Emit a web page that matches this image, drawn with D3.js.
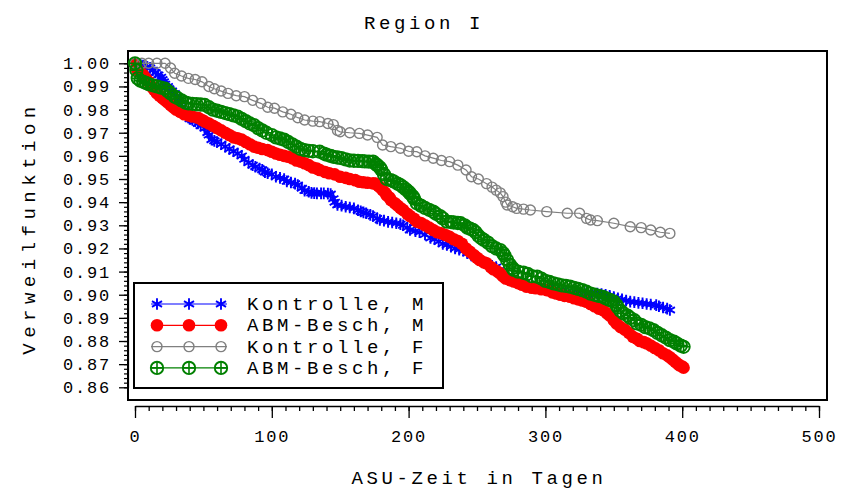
<!DOCTYPE html>
<html>
<head>
<meta charset="utf-8">
<script src="https://cdn.jsdelivr.net/npm/d3@7"></script>
<style>
  body { margin: 0; background: #fff; }
  text { font-family: "Liberation Mono", "DejaVu Sans Mono", monospace; fill: #000; }
</style>
</head>
<body>
<div id="chart"></div>
<script>
// Verweilfunktion (Kaplan-Meier) per Gruppe, [Tage, Anteil]
const kontrolleM = [[0,1.000],[2,0.9998],[4,0.9995],[6,0.999],[9,0.9985],[11,0.998],[13,0.997],[15,0.996],[17,0.995],[19,0.994],[20,0.993],[21,0.992],[22,0.991],[24,0.990],[25,0.989],[27,0.988],[29,0.987],[31,0.9855],[32,0.984],[33,0.9825],[34,0.981],[35,0.9795],[36,0.978],[38,0.977],[40,0.976],[42,0.9755],[44,0.975],[46,0.974],[48,0.973],[51,0.972],[53,0.970],[54,0.969],[56,0.967],[58,0.9665],[60,0.966],[63,0.965],[66,0.964],[69,0.963],[72,0.962],[75,0.961],[78,0.960],[80,0.9585],[83,0.957],[86,0.956],[88,0.9553],[91,0.9545],[93,0.954],[95,0.953],[97,0.9525],[100,0.952],[103,0.951],[106,0.9505],[109,0.950],[111,0.949],[114,0.9485],[117,0.948],[119,0.9474],[122,0.946],[124,0.945],[127,0.9445],[129,0.944],[131,0.9439],[133,0.9438],[136,0.9438],[138,0.9438],[141,0.9437],[143,0.9435],[145,0.9415],[146,0.940],[148,0.9388],[151,0.9385],[154,0.938],[157,0.9377],[160,0.9373],[163,0.9365],[165,0.936],[167,0.9356],[169,0.9352],[172,0.9345],[174,0.934],[177,0.933],[179,0.9323],[182,0.932],[185,0.9315],[188,0.9312],[191,0.9309],[194,0.9305],[196,0.930],[199,0.929],[201,0.928],[205,0.9275],[208,0.927],[212,0.926],[216,0.9245],[219,0.924],[222,0.923],[225,0.922],[228,0.9215],[231,0.9208],[234,0.920],[237,0.9195],[240,0.919],[243,0.918],[246,0.917],[249,0.916],[252,0.915],[255,0.914],[258,0.913],[261,0.9125],[264,0.912],[266,0.9105],[268,0.909],[271,0.907],[274,0.9065],[276,0.906],[279,0.9055],[282,0.905],[285,0.9045],[288,0.904],[291,0.9035],[295,0.903],[298,0.9025],[301,0.902],[305,0.9018],[310,0.9015],[315,0.9012],[320,0.901],[325,0.9008],[330,0.9007],[334,0.9006],[338,0.9005],[341,0.9003],[344,0.900],[347,0.8995],[350,0.899],[353,0.8985],[356,0.898],[359,0.8975],[362,0.897],[365,0.8968],[368,0.8965],[371,0.8963],[374,0.896],[377,0.8958],[381,0.8955],[383,0.895],[386,0.8945],[389,0.894],[391,0.8934]];
const abmM = [[0,1.000],[1,0.998],[2,0.997],[4,0.996],[6,0.995],[8,0.9935],[10,0.992],[12,0.990],[14,0.9885],[16,0.987],[18,0.986],[20,0.985],[22,0.984],[24,0.983],[26,0.982],[28,0.981],[30,0.980],[33,0.979],[36,0.978],[39,0.9775],[42,0.977],[46,0.9765],[49,0.9755],[51,0.9748],[54,0.974],[57,0.973],[60,0.972],[63,0.971],[66,0.970],[69,0.969],[72,0.968],[75,0.9676],[78,0.967],[81,0.966],[84,0.965],[87,0.964],[90,0.9635],[93,0.963],[97,0.9625],[100,0.9618],[103,0.961],[106,0.9605],[109,0.960],[112,0.9596],[115,0.959],[118,0.958],[121,0.9575],[124,0.9568],[127,0.956],[130,0.955],[133,0.9545],[135,0.9539],[139,0.953],[142,0.9525],[146,0.952],[150,0.951],[154,0.9505],[157,0.950],[161,0.9495],[164,0.9488],[167,0.9486],[170,0.9484],[174,0.9481],[176,0.948],[178,0.947],[180,0.946],[181,0.9452],[183,0.944],[184,0.943],[186,0.942],[187,0.9409],[190,0.9395],[192,0.9385],[194,0.9375],[196,0.9366],[199,0.935],[201,0.934],[204,0.9328],[206,0.9316],[209,0.931],[212,0.930],[215,0.929],[218,0.928],[221,0.927],[224,0.9265],[227,0.9258],[230,0.925],[233,0.924],[236,0.9232],[239,0.922],[242,0.920],[245,0.9185],[248,0.917],[250,0.916],[252,0.915],[255,0.914],[257,0.9136],[260,0.912],[262,0.911],[265,0.910],[267,0.9092],[269,0.908],[271,0.907],[274,0.9063],[277,0.9057],[280,0.905],[283,0.9043],[286,0.9035],[290,0.903],[293,0.9028],[297,0.9024],[301,0.902],[305,0.901],[308,0.9005],[311,0.900],[314,0.8995],[318,0.8991],[321,0.8985],[324,0.898],[327,0.8975],[330,0.897],[333,0.896],[336,0.895],[339,0.894],[342,0.8934],[345,0.892],[347,0.891],[350,0.889],[352,0.8876],[355,0.886],[358,0.885],[361,0.8835],[364,0.8818],[367,0.881],[369,0.880],[372,0.8795],[374,0.879],[377,0.878],[380,0.877],[383,0.876],[386,0.8747],[389,0.8738],[391,0.873],[393,0.872],[395,0.871],[397,0.870],[398,0.8695],[400,0.869],[401,0.8685]];
const kontrolleF = [[0,1.000],[5,1.000],[10,1.000],[16,1.000],[22,1.000],[26,0.998],[29,0.9957],[34,0.9945],[39,0.9935],[44,0.993],[49,0.992],[54,0.990],[58,0.989],[63,0.988],[68,0.987],[74,0.986],[80,0.9856],[86,0.984],[92,0.9827],[97,0.981],[102,0.9806],[108,0.979],[114,0.978],[119,0.9765],[124,0.9755],[130,0.975],[135,0.9748],[141,0.974],[145,0.9735],[148,0.971],[150,0.9704],[157,0.970],[164,0.9697],[170,0.969],[177,0.968],[181,0.9647],[187,0.964],[194,0.9633],[200,0.962],[206,0.9618],[212,0.960],[218,0.959],[224,0.958],[230,0.9575],[236,0.956],[242,0.9539],[246,0.951],[251,0.950],[257,0.948],[261,0.9465],[264,0.9452],[267,0.944],[269,0.9424],[271,0.940],[272,0.9388],[276,0.938],[279,0.9373],[284,0.937],[289,0.9366],[301,0.9359],[316,0.9352],[325,0.9352],[330,0.933],[333,0.9323],[338,0.932],[350,0.9309],[362,0.9294],[370,0.929],[377,0.928],[384,0.927],[391,0.9265]];
const abmF = [[0,1.000],[1,0.997],[2,0.9935],[4,0.9925],[6,0.992],[8,0.9915],[10,0.991],[13,0.9905],[16,0.990],[19,0.9895],[22,0.989],[24,0.988],[26,0.987],[29,0.9856],[31,0.985],[34,0.984],[37,0.983],[39,0.9827],[42,0.9825],[45,0.9823],[48,0.9822],[51,0.982],[54,0.981],[57,0.980],[60,0.9795],[63,0.979],[66,0.9785],[69,0.978],[72,0.9775],[75,0.977],[78,0.976],[81,0.975],[84,0.974],[87,0.9733],[90,0.972],[93,0.971],[96,0.970],[100,0.969],[103,0.968],[106,0.9675],[109,0.967],[112,0.966],[115,0.965],[118,0.964],[121,0.963],[124,0.9625],[127,0.9622],[130,0.962],[135,0.9618],[138,0.961],[140,0.9605],[143,0.960],[145,0.9596],[148,0.9593],[151,0.959],[154,0.9585],[157,0.958],[160,0.9579],[163,0.9578],[166,0.9577],[168,0.9576],[171,0.9575],[174,0.9575],[176,0.9565],[177,0.956],[179,0.955],[180,0.954],[182,0.952],[184,0.950],[187,0.9495],[189,0.949],[192,0.948],[194,0.9474],[196,0.9465],[198,0.9455],[200,0.9445],[201,0.9438],[203,0.9425],[204,0.9415],[206,0.9395],[209,0.9385],[212,0.9375],[215,0.9367],[218,0.9359],[220,0.935],[223,0.934],[225,0.933],[228,0.9316],[231,0.9314],[233,0.9312],[236,0.931],[238,0.9309],[241,0.930],[243,0.929],[245,0.9285],[247,0.928],[249,0.927],[251,0.9255],[253,0.9245],[255,0.9237],[258,0.9225],[261,0.921],[264,0.920],[267,0.9193],[269,0.918],[270,0.917],[272,0.915],[274,0.913],[276,0.9115],[277,0.9107],[280,0.910],[284,0.9095],[287,0.909],[290,0.908],[294,0.9078],[297,0.907],[300,0.906],[303,0.9055],[306,0.9049],[309,0.9045],[312,0.904],[315,0.9038],[318,0.9035],[321,0.903],[324,0.9025],[327,0.902],[330,0.9013],[333,0.9005],[336,0.900],[339,0.8995],[342,0.8991],[344,0.8985],[346,0.898],[348,0.8975],[350,0.897],[352,0.8955],[353,0.8945],[355,0.893],[357,0.892],[360,0.891],[362,0.890],[365,0.889],[367,0.8876],[370,0.887],[373,0.886],[376,0.8855],[379,0.8847],[382,0.8835],[385,0.8825],[388,0.8815],[391,0.8804],[394,0.8797],[396,0.879],[399,0.878],[401,0.8775]];

const seriesNames = ["Kontrolle, M", "ABM-Besch, M", "Kontrolle, F", "ABM-Besch, F"];
const seriesData = [kontrolleM, abmM, kontrolleF, abmF];
const seriesColors = ["#0000ff", "#ff0000", "#808080", "#008000"];
const seriesSymbols = ["star", "dot", "circle", "circleplus"];

const xTicks = [0, 100, 200, 300, 400, 500];
const yTicks = [0.86, 0.87, 0.88, 0.89, 0.90, 0.91, 0.92, 0.93, 0.94, 0.95, 0.96, 0.97, 0.98, 0.99, 1.00];

const width = 842, height = 492;
const frame = {left: 128, top: 51, right: 827, bottom: 400};

const svg = d3.select("#chart").append("svg")
    .attr("width", width)
    .attr("height", height);

const x = d3.scaleLinear().domain([0, 500]).range([135, 819]);
const y = d3.scaleLinear().domain([0.86, 1.00]).range([387.3, 63.3]);

// rahmen
svg.append("rect")
    .attr("x", frame.left).attr("y", frame.top)
    .attr("width", frame.right - frame.left)
    .attr("height", frame.bottom - frame.top)
    .attr("fill", "none").attr("stroke", "#000").attr("stroke-width", 2);

// x achse
const xMinor = d3.range(0, 501, 10);
svg.append("g")
    .attr("transform", "translate(0,406)")
    .call(d3.axisBottom(x).tickValues(xMinor).tickSize(5).tickSizeOuter(0).tickFormat(""))
    .call(g => g.selectAll("path,line").attr("stroke", "#000").attr("stroke-width", 1.3));
const gx = svg.append("g")
    .attr("transform", "translate(0,406)")
    .call(d3.axisBottom(x).tickValues(xTicks).tickSize(12).tickSizeOuter(0).tickPadding(12).tickFormat(d3.format("d")));
gx.select(".domain").remove();
gx.selectAll("line").attr("stroke", "#000").attr("stroke-width", 1.3);
gx.selectAll("text")
    .style("font-size", "17px").style("letter-spacing", "1.8px")
    .attr("fill", "#000");

// y achse
const yMinor = d3.range(0, 71).map(i => 0.86 + i * 0.002);
svg.append("g")
    .attr("transform", "translate(" + frame.left + ",0)")
    .call(d3.axisLeft(y).tickValues(yMinor).tickSize(4).tickSizeOuter(0).tickFormat(""))
    .call(g => g.selectAll("path,line").attr("stroke", "#000").attr("stroke-width", 1.2));
const gy = svg.append("g")
    .attr("transform", "translate(" + frame.left + ",0)")
    .call(d3.axisLeft(y).tickValues(yTicks).tickSize(9).tickSizeOuter(0).tickPadding(8).tickFormat(d3.format(".2f")));
gy.select(".domain").remove();
gy.selectAll("line").attr("stroke", "#000").attr("stroke-width", 1.3);
gy.selectAll("text")
    .style("font-size", "17px").style("letter-spacing", "1.8px")
    .attr("fill", "#000");

// titel
svg.append("text")
    .attr("x", 424).attr("y", 29)
    .attr("text-anchor", "middle")
    .style("font-size", "19px").style("letter-spacing", "3.6px")
    .text("Region I");
svg.append("text")
    .attr("x", 479).attr("y", 484)
    .attr("text-anchor", "middle")
    .style("font-size", "19px").style("letter-spacing", "3.6px")
    .text("ASU-Zeit in Tagen");
svg.append("text")
    .attr("transform", "translate(35,228) rotate(-90)")
    .attr("text-anchor", "middle")
    .style("font-size", "19px").style("letter-spacing", "5.5px")
    .text("Verweilfunktion");

function drawSymbol(g, kind, color) {
    if (kind === "dot") {
        g.append("circle").attr("r", 6.3).attr("fill", color);
    } else if (kind === "circle") {
        g.append("circle").attr("r", 5).attr("fill", "none")
            .attr("stroke", color).attr("stroke-width", 1.4);
    } else if (kind === "circleplus") {
        g.append("circle").attr("r", 6.2).attr("fill", "none")
            .attr("stroke", color).attr("stroke-width", 1.9);
        g.append("path").attr("d", "M-6,0H6M0,-6V6")
            .attr("stroke", color).attr("stroke-width", 1.6);
    } else {
        g.append("path").attr("d", d3.symbol(d3.symbolAsterisk, 95)())
            .attr("fill", "none").attr("stroke", color).attr("stroke-width", 1.9);
    }
}

const line = d3.line().x(d => x(d[0])).y(d => y(d[1]));

seriesData.forEach(function(data, i) {
    const g = svg.append("g");
    g.append("path")
        .attr("d", line(data))
        .attr("fill", "none")
        .attr("stroke", seriesColors[i])
        .attr("stroke-width", 1.2);
    g.selectAll(".pt")
        .data(data)
        .enter().append("g")
        .attr("class", "pt")
        .attr("transform", d => "translate(" + x(d[0]) + "," + y(d[1]) + ")")
        .each(function() { drawSymbol(d3.select(this), seriesSymbols[i], seriesColors[i]); });
});

// legende
const legend = svg.append("g");
legend.append("rect")
    .attr("x", 134).attr("y", 283).attr("width", 309).attr("height", 105)
    .attr("fill", "#fff").attr("stroke", "#000").attr("stroke-width", 2);
seriesNames.forEach(function(name, i) {
    const ly = 304 + i * 21.3;
    legend.append("line")
        .attr("x1", 151).attr("x2", 227).attr("y1", ly).attr("y2", ly)
        .attr("stroke", seriesColors[i]).attr("stroke-width", 1.2);
    [157, 189, 221].forEach(function(mx) {
        drawSymbol(legend.append("g").attr("transform", "translate(" + mx + "," + ly + ")"),
            seriesSymbols[i], seriesColors[i]);
    });
    legend.append("text")
        .attr("x", 247).attr("y", ly + 6)
        .style("font-size", "19px").style("letter-spacing", "3.6px")
        .text(name);
});
</script>
</body>
</html>
